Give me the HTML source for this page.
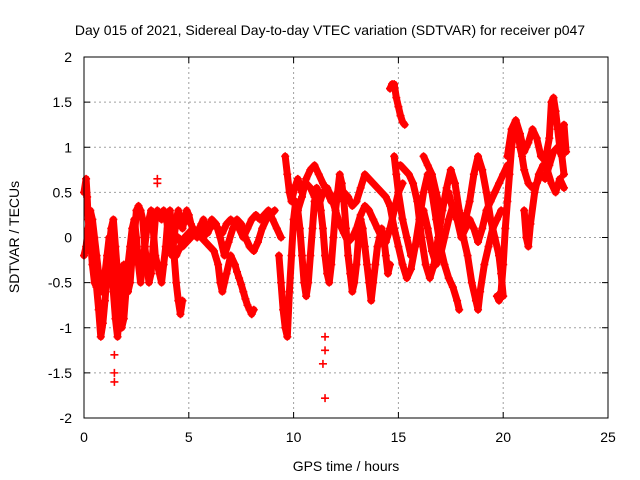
<!DOCTYPE html>
<html><head><meta charset="utf-8"><style>
body{margin:0;background:#fff;}
svg{display:block;font-family:"Liberation Sans",sans-serif;}
</style></head><body>
<svg id="chart" width="640" height="480">
<rect width="640" height="480" fill="#fff"/>
<text x="330" y="35" font-size="14" text-anchor="middle">Day 015 of 2021, Sidereal Day-to-day VTEC variation (SDTVAR) for receiver p047</text>
<text x="346" y="471" font-size="14" text-anchor="middle">GPS time / hours</text>
<text transform="translate(19,237) rotate(-90)" font-size="14" text-anchor="middle">SDTVAR / TECUs</text>
<g id="grid"></g>
<g id="ticks"></g>
<g id="marks"></g>
<rect x="84" y="57" width="524" height="361" fill="none" stroke="#000" stroke-width="1"/>
</svg>
<script>
const xTicks=[0,5,10,15,20,25];
const yTicks=[2,1.5,1,0.5,0,-0.5,-1,-1.5,-2];
const yTickLabels=["2","1.5","1","0.5","0","-0.5","-1","-1.5","-2"];
const trackA=[[0,.5],[.1,.65],[.15,.45],[.2,.2],[.3,0],[.4,-.3],[.5,-.5],[.6,-.55],[.7,-.8],[.8,-1.1],[.9,-.95],[1,-.7],[1.1,-.4],[1.2,-.1],[1.3,.1],[1.4,.2],[1.5,-.1],[1.6,-.4],[1.7,-.8],[1.8,-1],[1.9,-.9],[2,-.6],[2.1,-.3],[2.2,-.1],[2.3,.1],[2.4,.2],[2.5,0],[2.6,-.3],[2.7,-.5],[2.8,-.3],[2.9,-.1],[3,.1],[3.1,.2],[3.2,.3],[3.3,.1],[3.4,-.2],[3.5,-.3],[3.6,-.4],[3.7,-.5],[3.8,-.3],[3.9,-.1],[4,.2],[4.1,.3],[4.2,.1],[4.3,-.2],[4.4,-.5],[4.5,-.7],[4.6,-.85],[4.7,-.7]];
const trackB=[[0,-.2],[.1,-.1],[.2,.1],[.3,.3],[.4,.2],[.5,0],[.6,-.2],[.7,-.4],[.8,-.6],[.9,-.6],[1,-.4],[1.1,-.2],[1.2,0],[1.3,-.3],[1.4,-.6],[1.5,-.9],[1.6,-1.1],[1.7,-.8],[1.8,-.5],[1.9,-.3],[2,-.4],[2.1,-.6],[2.2,-.5],[2.3,-.2],[2.4,0],[2.5,.3],[2.6,.35],[2.7,.3],[2.8,.2],[2.9,-.1],[3,-.3],[3.1,-.5],[3.2,-.4],[3.3,-.1],[3.4,.2],[3.5,.3],[3.6,.25],[3.7,.2],[3.8,.3],[3.9,.25],[4,.1],[4.1,-.1],[4.2,-.2],[4.3,0],[4.4,.2],[4.5,.3],[4.6,.2],[4.7,.1],[4.8,.2],[4.9,.3],[5,.25],[5.1,.15],[5.2,.1],[5.3,.05],[5.4,0],[5.5,.1],[5.6,.15],[5.7,.2],[5.8,.1],[5.9,.05],[6,.1],[6.2,.15],[6.4,.1],[6.6,.05],[6.8,.15],[7,.2],[7.2,.15],[7.4,.1],[7.6,0],[7.8,.1],[8,.2],[8.2,.25],[8.4,.2],[8.6,.25],[8.8,.3],[9,.2],[9.2,.1],[9.4,0]];
const trackC=[[4,0],[4.2,-.1],[4.4,-.2],[4.6,-.1],[4.8,0],[5,.05],[5.2,.1],[5.4,.05],[5.6,0],[5.8,-.05],[6,-.1],[6.2,-.15],[6.4,-.3],[6.5,-.5],[6.6,-.6],[6.7,-.5],[6.8,-.4],[7,-.2],[7.2,-.3],[7.3,-.38],[7.4,-.45],[7.5,-.52],[7.6,-.6],[7.7,-.68],[7.8,-.75],[7.9,-.8],[8,-.85],[8.1,-.8]];
const trackD=[[4.5,0],[4.7,-.1],[4.9,-.05],[5.1,0],[5.3,.05],[5.5,.1],[5.7,0],[5.9,.1],[6.1,.2],[6.3,.15],[6.5,0],[6.7,-.2],[6.9,-.05],[7.1,.1],[7.3,.2],[7.5,.15],[7.7,0],[7.9,-.1],[8.1,-.15],[8.3,-.05],[8.5,.1],[8.7,.2],[8.9,.25],[9.1,.3]];
const trackE=[[9.3,-.2],[9.4,-.5],[9.5,-.8],[9.6,-1],[9.7,-1.1],[9.8,-.6],[9.9,-.2],[10,.2],[10.1,.4],[10.2,.3],[10.3,.1],[10.4,-.2],[10.5,-.5],[10.6,-.65],[10.7,-.5],[10.8,-.2],[10.9,.1],[11,.4],[11.1,.55],[11.2,.5],[11.3,.3],[11.4,.1],[11.5,-.2],[11.6,-.4],[11.7,-.5],[11.8,-.3],[11.9,0],[12,.3],[12.1,.5],[12.2,.7],[12.3,.6],[12.4,.4],[12.5,.1],[12.6,-.2],[12.7,-.4],[12.8,-.6],[12.9,-.5],[13,-.3],[13.1,0],[13.2,.2],[13.3,.1],[13.4,-.1],[13.5,-.3],[13.6,-.5],[13.7,-.7],[13.8,-.5],[13.9,-.3],[14,-.1],[14.1,0],[14.2,.1],[14.3,0],[14.4,-.2],[14.5,-.4],[14.6,-.3]];
const trackF=[[9.6,.9],[9.7,.7],[9.8,.5],[9.9,.4],[10,.5],[10.1,.58],[10.2,.65],[10.3,.58],[10.4,.5],[10.5,.55],[10.6,.6],[10.8,.55],[11,.45],[11.2,.35],[11.4,.5],[11.6,.55],[11.8,.45],[12,.3],[12.2,.15],[12.4,.05],[12.6,-.05],[12.8,0],[13,.1],[13.2,.25],[13.4,.35],[13.6,.3],[13.8,.2],[14,.1],[14.2,0],[14.4,-.05],[14.6,.1],[14.8,.3],[15,.5],[15.2,.6]];
const trackG=[[10.2,.3],[10.4,.45],[10.6,.65],[10.8,.75],[11,.8],[11.2,.7],[11.4,.6],[11.6,.5],[11.8,.4],[12,.45],[12.2,.55],[12.4,.5],[12.6,.45],[12.8,.35],[13,.4],[13.2,.55],[13.4,.7],[13.6,.65],[13.8,.6],[14,.55],[14.2,.5],[14.4,.45],[14.6,.35],[14.8,.1],[15,-.1],[15.2,-.3],[15.4,-.45],[15.6,-.35],[15.8,-.1],[16,.2],[16.2,.5],[16.4,.7],[16.6,.5],[16.8,.2],[17,-.1],[17.2,-.3],[17.4,-.45],[17.6,-.55],[17.8,-.7],[17.9,-.8]];
const trackH=[[14.6,1.65],[14.7,1.7],[14.8,1.7],[14.9,1.55],[15,1.45],[15.1,1.35],[15.2,1.28],[15.3,1.25]];
const trackI=[[14.8,.9],[14.9,.7],[15,.5],[15.2,.2],[15.4,0],[15.6,-.2],[15.8,-.1],[16,.1],[16.2,.3],[16.4,.1],[16.6,-.15],[16.8,-.3],[17,-.2],[17.2,0],[17.4,.2],[17.6,.35],[17.8,.2],[18,0],[18.2,.1],[18.4,.2],[18.6,.1],[18.8,-.05],[19,.1],[19.2,.3],[19.4,.4],[19.6,.5],[19.8,.6],[20,.7],[20.2,.8]];
const trackJ=[[14.9,.8],[15.1,.8],[15.3,.75],[15.5,.7],[15.7,.6],[15.9,.4],[16.1,0],[16.3,-.3],[16.5,-.45],[16.7,-.3],[16.9,0],[17.1,.3],[17.3,.55],[17.5,.75],[17.7,.6],[17.9,.3],[18.1,0],[18.3,-.2],[18.5,-.5],[18.7,-.7],[18.8,-.8],[18.9,-.6],[19.1,-.3],[19.3,-.1],[19.5,.1],[19.7,.2],[19.9,.3]];
const trackK=[[16.2,.9],[16.4,.8],[16.6,.7],[16.8,.5],[17,.3],[17.2,.4],[17.4,.5],[17.6,.3],[17.8,.2],[18,.25],[18.2,.2],[18.4,.4],[18.6,.7],[18.8,.9],[19,.75],[19.2,.5],[19.4,.2],[19.6,0],[19.8,-.2],[19.9,-.4],[20,-.65]];
const trackL=[[19.7,-.65],[19.8,-.7],[19.9,-.6],[20,-.3],[20.1,.1],[20.2,.4],[20.3,.7],[20.4,1],[20.5,1.15],[20.6,1.25],[20.7,1.2],[20.8,1],[20.9,.9],[21,.75],[21.2,.6],[21.4,.55],[21.6,.6],[21.8,.7],[22,.65],[22.2,.8],[22.4,.95],[22.6,1],[22.8,.9],[22.9,.7]];
const trackM=[[20.2,.9],[20.4,1.2],[20.6,1.3],[20.8,1.15],[21,.95],[21.2,1.05],[21.4,1.2],[21.6,1.1],[21.8,.9],[22,.85],[22.2,1.1],[22.3,1.5],[22.4,1.55],[22.5,1.4],[22.6,1.2],[22.7,1],[22.8,1.1],[22.9,1.25],[23,.95]];
const trackN=[[21,.3],[21.1,0],[21.2,-.1],[21.3,.15],[21.5,.5],[21.7,.7],[21.9,.8],[22.1,.75],[22.3,.6],[22.5,.5],[22.7,.65],[22.9,.55]];
const outliers=[[11.5,-1.1],[11.5,-1.25],[11.4,-1.4],[11.5,-1.78],[1.45,-1.3],[1.45,-1.5],[1.45,-1.6],[3.5,.65],[3.5,.6]];
const tracks=[trackA,trackB,trackC,trackD,trackE,trackF,trackG,trackH,trackI,trackJ,trackK,trackL,trackM,trackN];

const X0=84,X1=608,Y0=418,Y1=57;
function xs(t){return X0+(t-0)/(25-0)*(X1-X0);}
function ys(v){return Y0-(v-(-2))/(2-(-2))*(Y0-Y1);}
const NS="http://www.w3.org/2000/svg";
const grid=document.getElementById('grid'),ticks=document.getElementById('ticks'),marks=document.getElementById('marks');
function el(tag,attrs,parent){const e=document.createElementNS(NS,tag);for(const k in attrs)e.setAttribute(k,attrs[k]);parent.appendChild(e);return e;}
xTicks.forEach(t=>{
  const x=xs(t);
  if(t>0&&t<25){const g=el('line',{x1:x,x2:x,y1:Y1,y2:Y0,stroke:'#a0a0a0','stroke-dasharray':'2,3'},grid);
  
  }
  const tk=el('path',{d:`M${x},${Y0}v-6M${x},${Y1}v6`,stroke:'#000'},ticks);
  
  
  const lb=el('text',{x:x,y:442,'font-size':14,'text-anchor':'middle'},ticks);lb.textContent=String(t);
  
  
});
yTicks.forEach((v,i)=>{
  const y=ys(v);
  if(v>-2&&v<2){const g=el('line',{x1:X0,x2:X1,y1:y,y2:y,stroke:'#a0a0a0','stroke-dasharray':'2,3'},grid);
  
  }
  const tk=el('path',{d:`M${X0},${y}h6M${X1},${y}h-6`,stroke:'#000'},ticks);
  
  
  const lb=el('text',{x:72,y:y+5,'font-size':14,'text-anchor':'end'},ticks);lb.textContent=yTickLabels[i];
  
  
});
function drawPlus(tr,name){
  let d='';
  tr.forEach(p=>{const x=xs(p[0]),y=ys(p[1]);
    d+=`M${x-4},${y}h8M${x},${y-4}v8`;});
  const r=el('path',{d:d,stroke:'#ff0000','stroke-width':1.6,fill:'none'},marks);
  
  
}
tracks.forEach(tr=>{
  const pts=tr.map(p=>xs(p[0])+','+ys(p[1])).join(' ');
  const sw=el('polyline',{points:pts,fill:'none',stroke:'#ff0000','stroke-width':7,'stroke-linejoin':'round','stroke-linecap':'round'},marks);
  
  
  drawPlus(tr,'series-points');
});
drawPlus(outliers,'outlier-points');
</script>
</body></html>
